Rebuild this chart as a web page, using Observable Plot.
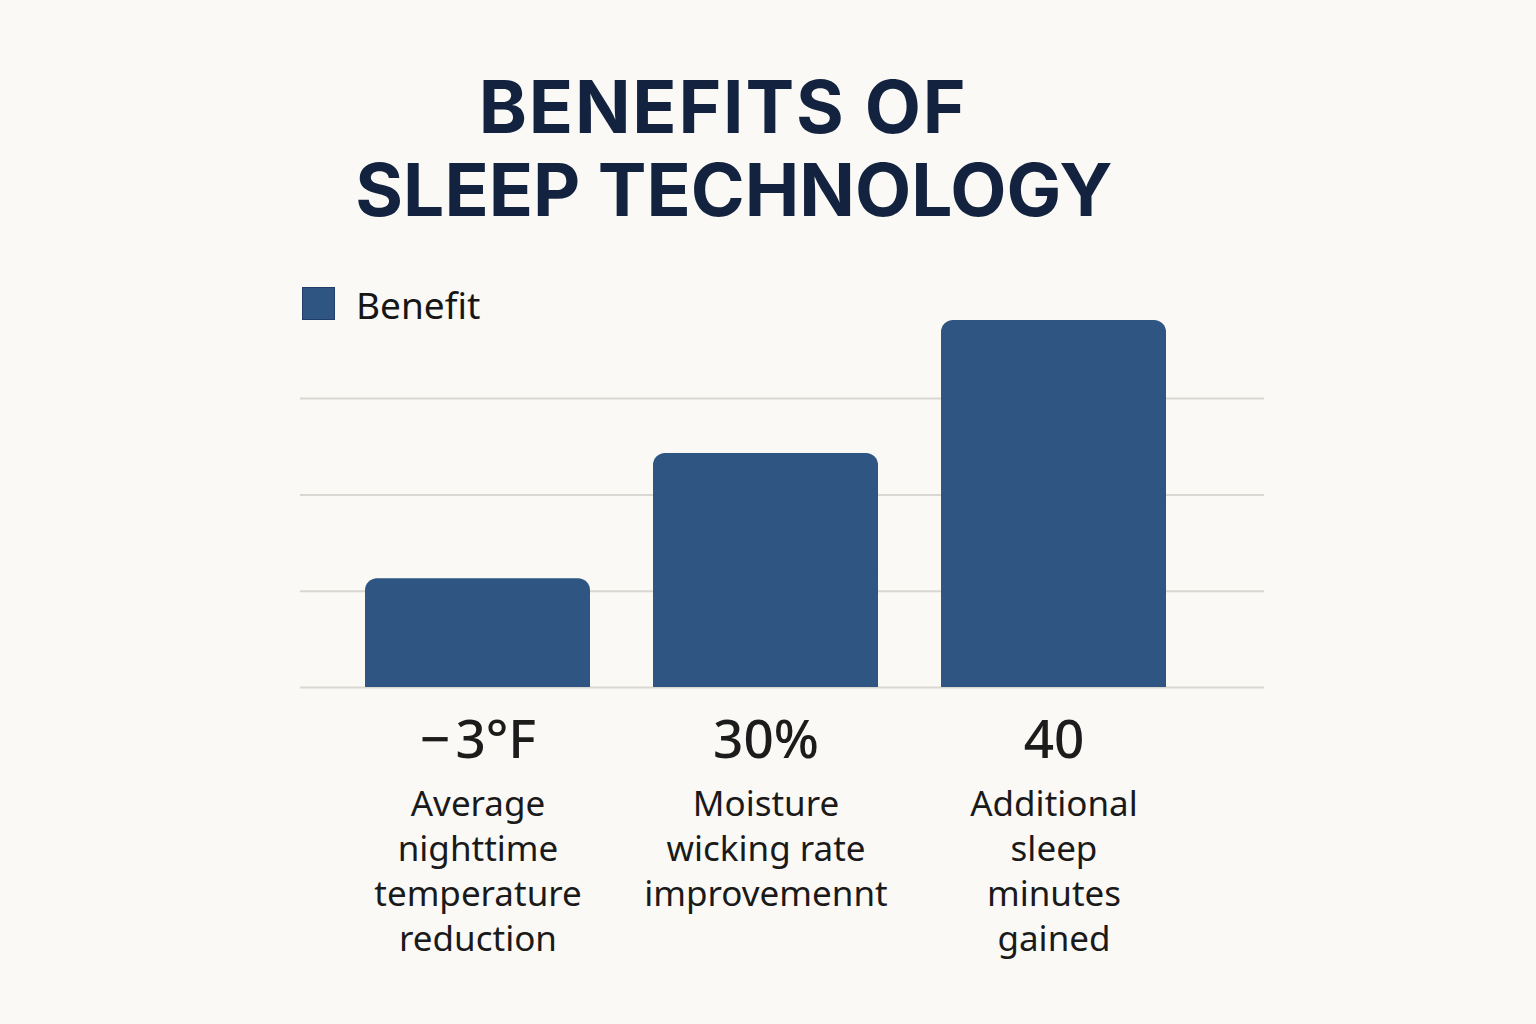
<!DOCTYPE html>
<html>
<head>
<meta charset="utf-8">
<script src="https://cdn.jsdelivr.net/npm/d3@7"></script>
<script src="https://cdn.jsdelivr.net/npm/@observablehq/plot@0.6"></script>
<style>
  html, body { margin: 0; padding: 0; background: #faf9f5; }
  #page { position: relative; width: 1536px; height: 1024px; overflow: hidden; background: #faf9f5; }
  .title-line { position: absolute; text-align: center; white-space: nowrap;
    font-family: Inter, "Noto Sans", sans-serif; font-weight: 700; font-size: 73px; line-height: 83px;
    color: #13233f; margin: 0; }
  #title1 { left: 0; width: 1446px; top: 65px; letter-spacing: 1.8px; }
  #title2 { left: 0; width: 1468px; top: 148px; letter-spacing: 0px; }
  #legend-swatch { position: absolute; left: 302px; top: 287px; width: 31px; height: 31px;
    background: #2f5583; border: 1px solid #1f3f6a; }
  #legend-label { position: absolute; left: 356px; top: 286px; font-family: "Noto Sans", sans-serif;
    font-size: 37px; line-height: 37px; color: #161616; }
  #chart { position: absolute; left: 0; top: 240px; }
</style>
</head>
<body>
<div id="page">
  <div id="title1" class="title-line">BENEFITS OF</div>
  <div id="title2" class="title-line">SLEEP TECHNOLOGY</div>
  <div id="legend-swatch"></div>
  <div id="legend-label">Benefit</div>
  <div id="chart"></div>
</div>
<script>
const categories = ["Temperature", "Moisture", "Sleep"];
const barValues = [11.3, 24.3, 38.1];
const valueLabels = ["\u2212\u200A3\u00B0F", "30%", "40"];
const descriptions = [
  "Average\nnighttime\ntemperature\nreduction",
  "Moisture\nwicking rate\nimprovemennt",
  "Additional\nsleep\nminutes\ngained"
];
const gridTicks = [0, 10, 20, 30];

const rows = categories.map((c, i) => ({
  category: c,
  value: barValues[i],
  label: valueLabels[i],
  description: descriptions[i]
}));

const barFill = "#2f5583";

const chart = Plot.plot({
  width: 1536,
  height: 784,
  marginLeft: 300,
  marginRight: 272,
  marginTop: 61.8,
  marginBottom: 337,
  style: { background: "transparent", fontFamily: "'Noto Sans', sans-serif" },
  x: { domain: categories, paddingInner: 0.219, paddingOuter: 0.283, align: 0.4, axis: null },
  y: { domain: [0, 40], axis: null },
  marks: [
    Plot.ruleY(gridTicks, { stroke: "#d8d7d2", strokeWidth: 2 }),
    // full bar with rounded corners
    Plot.barY(rows, { x: "category", y: "value", fill: barFill, rx: 12 }),
    // square off the bottom corners
    Plot.barY(rows, { x: "category", y: d => d.value / 2, fill: barFill }),
    Plot.text(rows, {
      x: "category", text: "label", frameAnchor: "bottom", lineAnchor: "bottom", dy: 70,
      fontSize: 53, fontWeight: 500, fill: "#1c1c1c", letterSpacing: 2
    }),
    Plot.text(rows, {
      x: "category", text: "description", frameAnchor: "bottom", lineAnchor: "top", dy: 96,
      fontSize: 35, lineHeight: 1.29, fill: "#1a1a1a", letterSpacing: 1.2
    })
  ]
});
document.getElementById("chart").appendChild(chart);
</script>
</body>
</html>
